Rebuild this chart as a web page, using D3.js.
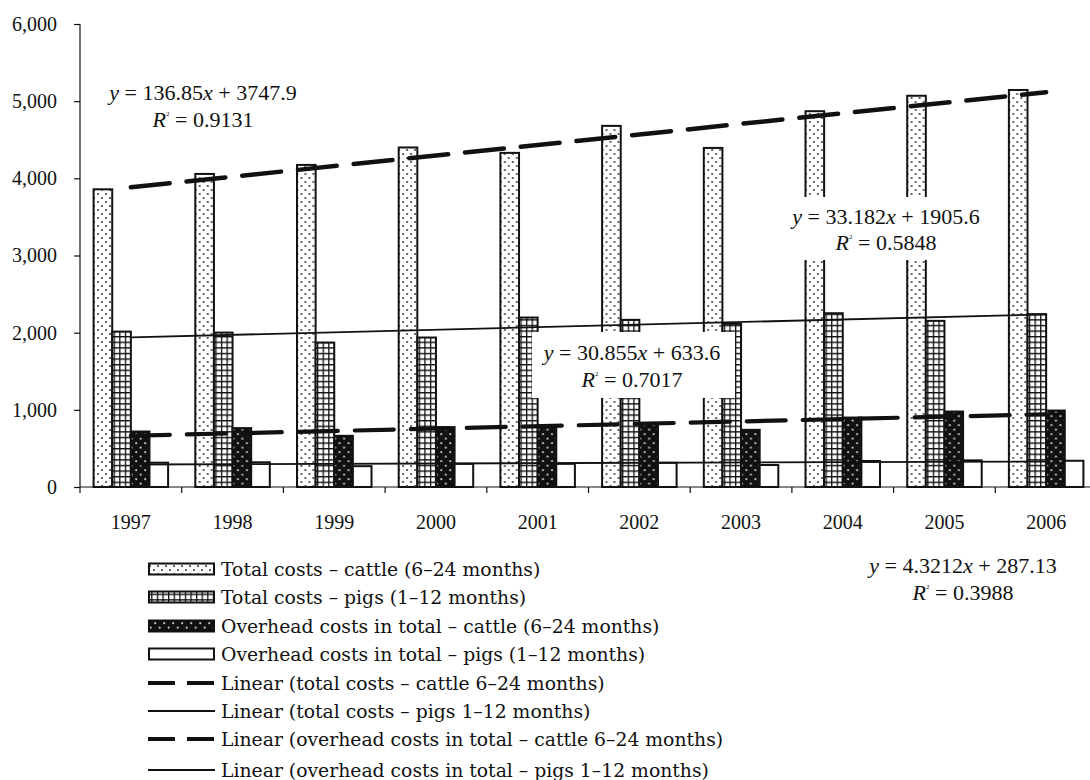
<!DOCTYPE html>
<html lang="en">
<head>
    <meta charset="UTF-8">
    <title>Costs – cattle and pigs</title>
    <script src="https://d3js.org/d3.v7.min.js"></script>
    <style>
        body { margin: 0; background: #fff; }
        svg { display: block; }
        .axis text { font-family: "Liberation Serif", "Times New Roman", serif; font-size: 20px; fill: #111; }
        .axis path, .axis line { stroke: #111; stroke-width: 1.2; }
        .eq { font-family: "Liberation Serif", "Times New Roman", serif; font-size: 22px; fill: #111; text-anchor: middle; }
        .legend text { font-family: "DejaVu Serif", serif; font-size: 18.8px; fill: #111; }
    </style>
</head>
<body>
<div id="chart"></div>
<script>
    // data
    const years = ["1997", "1998", "1999", "2000", "2001", "2002", "2003", "2004", "2005", "2006"];
    const cattleTotal = [3858, 4057, 4174, 4400, 4330, 4680, 4394, 4870, 5070, 5145];
    const pigsTotal = [2014, 2001, 1872, 1937, 2196, 2166, 2114, 2252, 2153, 2240];
    const cattleOverhead = [719, 763, 663, 776, 793, 819, 741, 900, 978, 991];
    const pigsOverhead = [315, 320, 270, 300, 300, 314, 285, 337, 345, 340];
    const yTicks = [0, 1000, 2000, 3000, 4000, 5000, 6000];

    // trend line coefficients (slope, intercept, R²) as printed on the chart
    const trendSlopes = [136.85, 33.182, 30.855, 4.3212];
    const trendIntercepts = [3747.9, 1905.6, 633.6, 287.13];
    const trendR2 = ["0.9131", "0.5848", "0.7017", "0.3988"];

    const seriesNames = [
        "Total costs \u2013 cattle (6\u201324 months)",
        "Total costs \u2013 pigs (1\u201312 months)",
        "Overhead costs in total \u2013 cattle (6\u201324 months)",
        "Overhead costs in total \u2013 pigs (1\u201312 months)"
    ];
    const trendNames = [
        "Linear (total costs \u2013 cattle 6\u201324 months)",
        "Linear (total costs \u2013 pigs 1\u201312 months)",
        "Linear (overhead costs in total \u2013 cattle 6\u201324 months)",
        "Linear (overhead costs in total \u2013 pigs 1\u201312 months)"
    ];

    const W = 1090, H = 780;
    const svg = d3.select("#chart").append("svg")
        .attr("width", W).attr("height", H);

    // patterns
    const defs = svg.append("defs");
    const pDots = defs.append("pattern").attr("id", "pDots")
        .attr("patternUnits", "userSpaceOnUse").attr("width", 8).attr("height", 8);
    pDots.append("rect").attr("width", 8).attr("height", 8).attr("fill", "#fff");
    [[2, 2], [6, 6]].forEach(p => pDots.append("circle").attr("cx", p[0]).attr("cy", p[1]).attr("r", 1).attr("fill", "#333"));

    const pGrid = defs.append("pattern").attr("id", "pGrid")
        .attr("patternUnits", "userSpaceOnUse").attr("width", 5.6).attr("height", 5.6);
    pGrid.append("rect").attr("width", 5.6).attr("height", 5.6).attr("fill", "#fff");
    pGrid.append("path").attr("d", "M0,0.6H5.6M0.6,0V5.6").attr("stroke", "#111").attr("stroke-width", 1.4);

    const pDark = defs.append("pattern").attr("id", "pDark")
        .attr("patternUnits", "userSpaceOnUse").attr("width", 9).attr("height", 9);
    pDark.append("rect").attr("width", 9).attr("height", 9).attr("fill", "#111");
    [[2.2, 2.2], [6.7, 6.7]].forEach(p => pDark.append("circle").attr("cx", p[0]).attr("cy", p[1]).attr("r", 1.1).attr("fill", "#bbb"));

    const fills = ["url(#pDots)", "url(#pGrid)", "url(#pDark)", "#fff"];

    // scales
    const y = d3.scaleLinear().domain([0, 6000]).range([487, 24]);
    const x0 = d3.scaleBand().domain(years).range([80, 1097]);
    const x1 = d3.scaleBand().domain(d3.range(4)).range([0, x0.bandwidth()])
        .paddingInner(0).paddingOuter(0.73);

    // axes
    const yAxis = svg.append("g").attr("class", "axis")
        .attr("transform", "translate(80,0)")
        .call(d3.axisLeft(y).tickValues(yTicks).tickSize(6).tickSizeOuter(0).tickPadding(17)
            .tickFormat(d3.format(",")));
    yAxis.select(".domain").attr("d", `M0,${y(0)}V${y(6000)}`);

    const xAxis = svg.append("g").attr("class", "axis")
        .attr("transform", `translate(0,${y(0)})`)
        .call(d3.axisBottom(x0).tickSize(0).tickPadding(28));
    xAxis.select(".domain").attr("d", `M80,0H${W}`);
    xAxis.selectAll(".tick text").attr("dy", "0.71em").attr("y", 28);
    xAxis.selectAll(".bound")
        .data(years.map(d => x0(d)).concat([x0.range()[1]]))
        .join("line").attr("class", "bound")
        .attr("x1", d => d).attr("x2", d => d)
        .attr("y1", 0).attr("y2", 6);

    // bars
    const series = [cattleTotal, pigsTotal, cattleOverhead, pigsOverhead];
    const groups = svg.append("g").selectAll("g")
        .data(years).join("g")
        .attr("transform", d => `translate(${x0(d)},0)`);
    groups.selectAll("rect")
        .data((d, i) => series.map((s, k) => ({ k, v: s[i] })))
        .join("rect")
        .attr("x", d => x1(d.k))
        .attr("width", x1.bandwidth())
        .attr("y", d => y(d.v))
        .attr("height", d => y(0) - y(d.v))
        .attr("fill", d => fills[d.k])
        .attr("stroke", "#111")
        .attr("stroke-width", 2);

    // trend lines
    const trendStyle = [
        { w: 4.5, dash: "39,17" },
        { w: 1.8, dash: null },
        { w: 4.2, dash: "39,17" },
        { w: 1.8, dash: null }
    ];
    const line = d3.line().x(d => x0(years[d.i]) + x0.bandwidth() / 2).y(d => y(d.v));
    trendSlopes.forEach((m, k) => {
        const pts = [0, years.length - 1].map(i => ({ i, v: m * (i + 1) + trendIntercepts[k] }));
        svg.append("path")
            .attr("d", line(pts))
            .attr("fill", "none")
            .attr("stroke", "#111")
            .attr("stroke-width", trendStyle[k].w)
            .attr("stroke-linecap", trendStyle[k].dash ? "round" : "butt")
            .attr("stroke-dasharray", trendStyle[k].dash);
    });

    // equation labels
    const eqPos = [
        { cx: 203, by: 100, gap: 27, box: null },
        { cx: 886, by: 224, gap: 26, box: [780, 197, 213, 63] },
        { cx: 632, by: 360, gap: 27, box: [532, 332, 203, 66] },
        { cx: 963, by: 573, gap: 27, box: null }
    ];
    eqPos.forEach((p, k) => {
        const g = svg.append("g");
        if (p.box) {
            g.append("rect").attr("x", p.box[0]).attr("y", p.box[1])
                .attr("width", p.box[2]).attr("height", p.box[3]).attr("fill", "#fff");
        }
        const t1 = g.append("text").attr("class", "eq").attr("x", p.cx).attr("y", p.by);
        t1.append("tspan").attr("font-style", "italic").text("y");
        t1.append("tspan").text(` = ${trendSlopes[k]}`);
        t1.append("tspan").attr("font-style", "italic").text("x");
        t1.append("tspan").text(` + ${trendIntercepts[k]}`);
        const t2 = g.append("text").attr("class", "eq").attr("x", p.cx).attr("y", p.by + p.gap);
        t2.append("tspan").attr("font-style", "italic").text("R");
        t2.append("tspan").attr("font-size", "7px").attr("dy", "-11").text("2");
        t2.append("tspan").attr("dy", "11").text(` = ${trendR2[k]}`);
    });

    // legend
    const legend = svg.append("g").attr("class", "legend");
    const rowY = [569, 597, 626, 654, 683, 711, 739, 770];
    const items = seriesNames.map((n, k) => ({ name: n, type: "bar", k }))
        .concat(trendNames.map((n, k) => ({ name: n, type: "line", k })));
    items.forEach((it, i) => {
        const cy = rowY[i];
        if (it.type === "bar") {
            legend.append("rect").attr("x", 149).attr("y", cy - 5.5)
                .attr("width", 65).attr("height", 11)
                .attr("fill", fills[it.k]).attr("stroke", "#111").attr("stroke-width", 2);
        } else {
            const dashed = trendStyle[it.k].dash;
            legend.append("line").attr("x1", 148).attr("x2", 215)
                .attr("y1", cy).attr("y2", cy)
                .attr("stroke", "#111")
                .attr("stroke-width", dashed ? 4 : 2)
                .attr("stroke-dasharray", dashed ? "27,12" : null);
        }
        legend.append("text").attr("x", 221).attr("y", cy + 6.5).text(it.name);
    });
</script>
</body>
</html>
